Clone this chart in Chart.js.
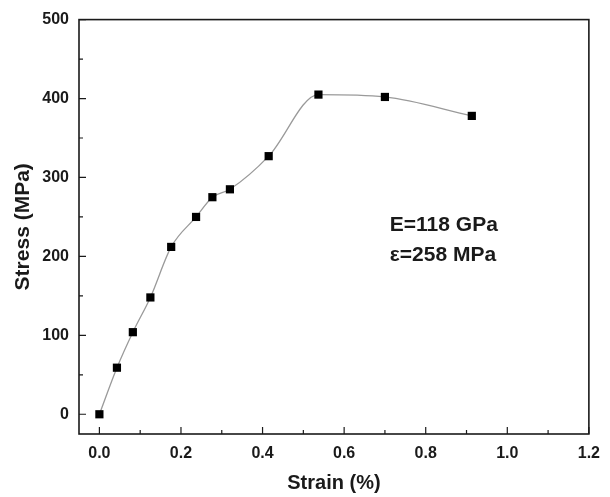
<!DOCTYPE html>
<html>
<head>
<meta charset="utf-8">
<script src="https://cdn.jsdelivr.net/npm/chart.js@4"></script>
<style>
  html, body { margin: 0; padding: 0; background: #fff; }
  #wrap { width: 610px; height: 497px; }
</style>
</head>
<body>
<div id="wrap"><canvas id="myChart" width="610" height="497"></canvas></div>
<script>
// values
const strain = [0, 0.043, 0.082, 0.125, 0.176, 0.237, 0.277, 0.320, 0.415, 0.537, 0.700, 0.913];
const stress = [0, 59, 104, 148, 212, 250, 275, 285, 327, 405, 402, 378];

const xTicks = [0, 0.2, 0.4, 0.6, 0.8, 1.0, 1.2];
const xMinorTicks = [0.1, 0.3, 0.5, 0.7, 0.9, 1.1];
const yTicks = [0, 100, 200, 300, 400, 500];
const yMinorTicks = [50, 150, 250, 350, 450];

const noteLines = ['E=118 GPa', '\u03b5=258 MPa'];

const FONT = "'Liberation Sans', Arial, sans-serif";
const INK = '#1a1a1a';

// frame, inward ticks and the text note
const frameAndTicks = {
    id: 'frameAndTicks',
    afterDraw(chart)
    {
        const ctx = chart.ctx;
        const a = chart.chartArea;
        const xs = chart.scales.x;
        const ys = chart.scales.y;
        ctx.save();
        ctx.strokeStyle = INK;
        ctx.lineWidth = 1.6;
        ctx.strokeRect(a.left, a.top, a.right - a.left, a.bottom - a.top);

        ctx.lineWidth = 1.2;
        ctx.beginPath();
        xTicks.forEach(v =>
        {
            const px = xs.getPixelForValue(v);
            ctx.moveTo(px, a.bottom);
            ctx.lineTo(px, a.bottom - 7);
        });
        xMinorTicks.forEach(v =>
        {
            const px = xs.getPixelForValue(v);
            ctx.moveTo(px, a.bottom);
            ctx.lineTo(px, a.bottom - 4);
        });
        yTicks.forEach(v =>
        {
            const py = ys.getPixelForValue(v);
            ctx.moveTo(a.left, py);
            ctx.lineTo(a.left + 7, py);
        });
        yMinorTicks.forEach(v =>
        {
            const py = ys.getPixelForValue(v);
            ctx.moveTo(a.left, py);
            ctx.lineTo(a.left + 4, py);
        });
        ctx.stroke();

        // annotation
        ctx.fillStyle = INK;
        ctx.font = 'bold 21px ' + FONT;
        ctx.textAlign = 'left';
        ctx.textBaseline = 'middle';
        const tx = xs.getPixelForValue(0.712);
        ctx.fillText(noteLines[0], tx, ys.getPixelForValue(240));
        ctx.fillText(noteLines[1], tx, ys.getPixelForValue(202));
        ctx.restore();
    }
};

const chartContext = document.getElementById('myChart').getContext('2d');

new Chart(chartContext, {
    type: 'scatter',
    data: {
        datasets: [
            {
                data: strain.map((x, i) => ({ x: x, y: stress[i] })),
                showLine: true,
                borderColor: '#9a9a9a',
                borderWidth: 1.3,
                cubicInterpolationMode: 'monotone',
                pointStyle: 'rect',
                pointRadius: 5.8,
                pointBorderWidth: 0,
                pointBackgroundColor: '#000',
                clip: false
            }
        ]
    },
    options: {
        responsive: false,
        animation: false,
        devicePixelRatio: 1,
        layout: {
            padding: { top: 18, right: 15, left: 0, bottom: 0 }
        },
        plugins: {
            legend: { display: false },
            tooltip: { enabled: false }
        },
        scales: {
            x: {
                type: 'linear',
                min: -0.05,
                max: 1.2,
                grid: { display: false, drawTicks: false },
                border: { display: false },
                afterBuildTicks: scale =>
                {
                    scale.ticks = xTicks.map(v => ({ value: v }));
                },
                afterFit: scale =>
                {
                    scale.height = 63;
                },
                ticks: {
                    padding: 10,
                    maxRotation: 0,
                    autoSkip: false,
                    color: INK,
                    font: { family: FONT, size: 16, weight: 'bold' },
                    callback: v => Number(v).toFixed(1)
                },
                title: {
                    display: true,
                    text: 'Strain (%)',
                    color: INK,
                    padding: { top: 0, bottom: 2 },
                    font: { family: FONT, size: 20, weight: 'bold' }
                }
            },
            y: {
                type: 'linear',
                min: -25,
                max: 500,
                grid: { display: false, drawTicks: false },
                border: { display: false },
                afterBuildTicks: scale =>
                {
                    scale.ticks = yTicks.map(v => ({ value: v }));
                },
                afterFit: scale =>
                {
                    scale.width = 79;
                },
                ticks: {
                    padding: 10,
                    autoSkip: false,
                    color: INK,
                    font: { family: FONT, size: 16, weight: 'bold' }
                },
                title: {
                    display: true,
                    text: 'Stress (MPa)',
                    color: INK,
                    padding: { top: 11, bottom: 0 },
                    font: { family: FONT, size: 21, weight: 'bold' }
                }
            }
        }
    },
    plugins: [frameAndTicks]
});
</script>
</body>
</html>
